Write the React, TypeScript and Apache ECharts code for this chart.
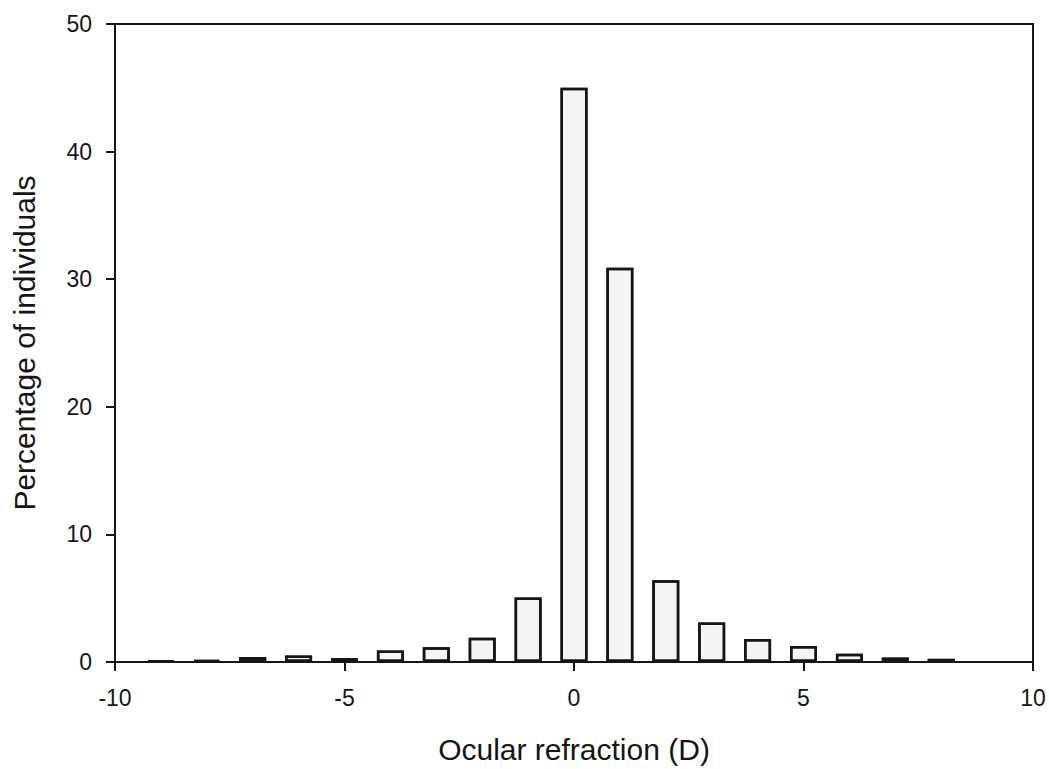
import React, { useEffect, useRef } from "react";
import * as echarts from "echarts";

const refraction = [-9, -8, -7, -6, -5, -4, -3, -2, -1, 0, 1, 2, 3, 4, 5, 6, 7, 8];
const percentage = [0.1, 0.15, 0.4, 0.5, 0.3, 0.9, 1.15, 1.9, 5.05, 45, 30.9, 6.4, 3.1, 1.8, 1.25, 0.65, 0.35, 0.25];

const xTitle = "Ocular refraction (D)";
const yTitle = "Percentage of individuals";

export default function App() {
  const ref = useRef<HTMLDivElement>(null);
  useEffect(() => {
    const chart = echarts.init(ref.current!, null, { renderer: "svg" });
    const font = "'Liberation Sans', Arial, sans-serif";
    const ink = "#151515";
    chart.setOption({
      animation: false,
      backgroundColor: "#ffffff",
      aria: { enabled: true, decal: { show: true } },
      grid: {
        left: 115,
        right: 16,
        top: 24,
        bottom: 107,
        show: true,
        borderColor: ink,
        borderWidth: 2,
        backgroundColor: "transparent",
      },
      xAxis: {
        type: "value",
        min: -10,
        max: 10,
        interval: 5,
        name: xTitle,
        nameLocation: "middle",
        nameGap: 72,
        nameTextStyle: { fontFamily: font, fontSize: 30, color: ink },
        axisLine: { show: true, onZero: false, lineStyle: { color: ink, width: 2 } },
        axisTick: { show: true, inside: false, length: 9, lineStyle: { color: ink, width: 2 } },
        axisLabel: { fontFamily: font, fontSize: 23, color: ink, margin: 24 },
        splitLine: { show: false },
      },
      yAxis: {
        type: "value",
        min: 0,
        max: 50,
        interval: 10,
        name: yTitle,
        nameLocation: "middle",
        nameGap: 76,
        nameRotate: 90,
        nameTextStyle: { fontFamily: font, fontSize: 30, color: ink },
        axisLine: { show: true, onZero: false, lineStyle: { color: ink, width: 2 } },
        axisTick: { show: true, inside: false, length: 9, lineStyle: { color: ink, width: 2 } },
        axisLabel: { fontFamily: font, fontSize: 23, color: ink, margin: 23 },
        splitLine: { show: false },
      },
      series: [
        {
          type: "bar",
          data: refraction.map((x, i) => [x, percentage[i]]),
          barWidth: 27,
          itemStyle: {
            color: "#f4f4f4",
            borderColor: ink,
            borderWidth: 2.5,
            decal: {
              symbol: "circle",
              symbolSize: 0.3,
              color: "rgba(60,60,60,0.5)",
              dashArrayX: [1, 6],
              dashArrayY: [2, 9],
              rotation: 0.6,
            },
          },
        },
      ],
    });
    return () => chart.dispose();
  }, []);
  return <div ref={ref} style={{ width: 1049, height: 769, position: "absolute", left: 0, top: 0 }} />;
}
